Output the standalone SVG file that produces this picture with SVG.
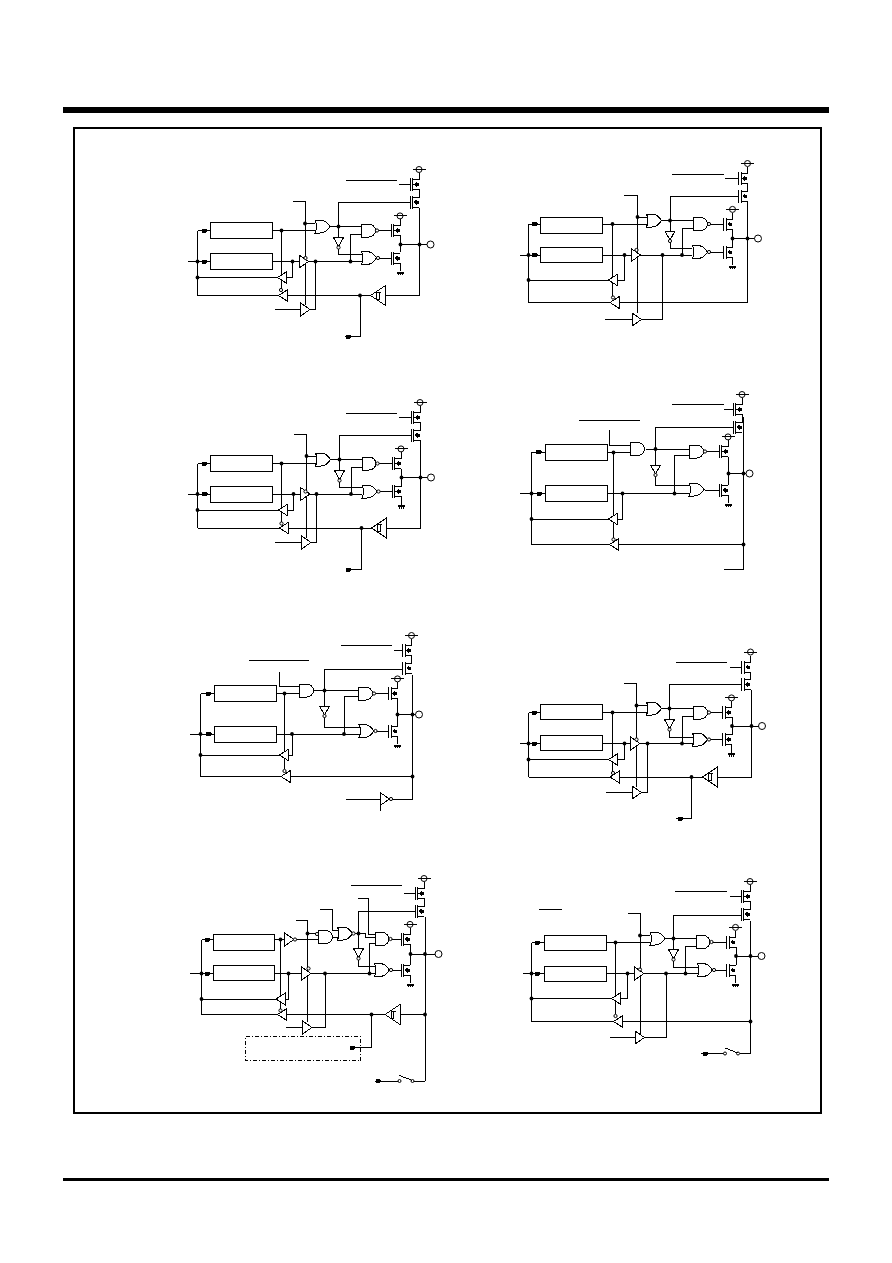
<svg xmlns="http://www.w3.org/2000/svg" width="892" height="1263" viewBox="0 0 892 1263">
<style>
path,rect{shape-rendering:crispEdges}
circle{shape-rendering:geometricPrecision}
.w{fill:none;stroke:#000;stroke-width:1}
.s{fill:#fff;stroke:#000;stroke-width:1}
.o{fill:none;stroke:#000;stroke-width:1}
.f{fill:#000;stroke:none}
</style>
<defs>
<circle id="j" r="1.9" class="f"/>
<path id="k" class="f" d="M-3.500-2H0.500L3 0 0.500 2H-3.500z"/>
<circle id="b" r="1.6" class="s"/>
<g id="and"><path class="s" d="M0-6.500H7A7 6.500 0 0 1 7 6.500H0z"/></g>
<g id="or"><path class="s" d="M0-6.500H5Q11-6.500 15 0Q11 6.500 5 6.500H0Q3 0 0-6.500z"/></g>
<g id="nand"><use href="#and"/><use href="#b" x="15.500"/></g>
<g id="nor"><use href="#or"/><use href="#b" x="16.500"/></g>
<path id="bl" class="s" d="M0 0L9.400-6V6z"/>
<path id="br" class="s" d="M0 0L-9.300-6.400V6.400z"/>
<g id="st"><path class="s" d="M0 0L15-10V10z"/><path class="o" d="M5 3.500H8.500V-3.500M6 3.500V-3.500H10.500"/></g>
<g id="dn"><path class="s" d="M-5 0H5L0 9z"/><use href="#b" y="10"/></g>
<g id="sup"><circle class="s" r="3"/><path class="o" d="M-6.500 0H6.500"/></g>
<g id="tt"><path class="o" d="M0-6.500V6.500M2.500-6.500V6.500M2.500-5H9.300V-11.500M2.500 5H9.300"/><path class="f" d="M3.500 0L6.500-2.500V2.500z M6-1.500H8.500V1.500H6z"/><use href="#sup" x="9" y="-14.600"/></g>
<g id="tb"><path class="o" d="M0-6.500V6.500M2.500-6.500V6.500M2.500-5H9.300M2.500 5H9.300V13"/><path class="f" d="M3.500 0L6.500-2.500V2.500z M6-1.500H8.500V1.500H6z"/><path class="f" d="M5.500 13.500H12.500V15.500H11.500V17H10.500V15.500H9.500V17H8.500V15.500H7.500V17H6.500V15.500H5.500z"/></g>
<g id="up"><path class="o" d="M0-6.500V6.500M2.500-6.500V6.500M2.500-5H9.300V-11.500M2.500 5H9.300V12.500H2.500M0 11V24M2.500 11V24M2.500 22.500H9.300"/><path class="f" d="M3.500 0L6.500-2.500V2.500z M6-1.500H8.500V1.500H6zM3.500 17.500L6.500 15V20z M6 16H8.500V19H6z"/><use href="#sup" x="9" y="-15"/></g>
<g id="sw"><circle class="s" r="1.500"/><circle class="s" cx="13" r="1.500"/><path class="o" d="M0-5.500L13-0.500"/></g>
</defs>

<g id="page">
<rect class="f" x="63" y="107" width="766" height="6"/>
<rect class="f" x="63" y="1178" width="766" height="3"/>
<rect x="74" y="128" width="747" height="985" fill="none" stroke="#000" stroke-width="2"/>
</g>

<g id="connectors">
<path id="c1-wires" class="w" d="M187.500 261.500H210.500M197.500 230.500V295.500M197.500 230.500H210.500M272.500 230.500H315M281.500 230.500V290M197.500 277.500H278M287 277.500H292.500V261.500M272.500 261.500H361.500M292.500 201.500H305V305M305 223.500H315M315.500 261.500V309.500H310M274.500 309.500H301M197.500 295.500H278.500M288 295.500H371M385.500 295.500H419.500V207.500M360 295.500V336.500H345M330 226.500H361.500M338.500 226.500V202H410M338.500 226.500V237.500M338.500 247V254H361.500M350.500 261.500V234.500H361.500M377 230.500H391M377 258H391M400.500 235V252M400.500 244.500H427M346 180.500H396.500M398.500 184.500H410"/>
<path id="c2-wires" class="w" d="M519.500 255H540.500M528.500 224V302.500M528.500 224H540.500M602.500 224H646.500M612.500 224V297M528.500 280H609M618 280H624.500V255M602.500 255H691.500M624 195H637.500V312.500M637.500 217H646.500M662.500 255V319.500H642M605 319.500H632.500M528.500 302.500H610M619.500 302.500H747.500V201.500M661 220.500H693.500M670 220.500V196H738.500M670 220.500V231M670 241V248.500H691.500M682 255V228.500H693.500M708 224H723.500M708 252H723.500M732.500 229V247M732.500 238.500H755M672 174.500H723.500M725 178.500H738.500"/>
<path id="c3-wires" class="w" d="M187.500 494H210.500M197.500 463.500V528M197.500 463.500H210.500M272.500 463.500H315.500M281.500 463.500V523M197.500 510H278.500M288 510H293.500V494M272.500 494H362M293.500 434H306.500V538M306.500 456H315.500M316.500 494V542.500H311M275 542.500H302M197.500 528H279.500M288.500 528H371.500M386.500 528H420.500V440M361.500 528V569.500H345.500M330.500 459.500H362M339.500 459.500V435H411M339.500 459.500V470.500M339.500 480V487.500H362M351 494V467.500H362M378 463.500H392M378 491.500H392M401.500 468.500V486.500M401.500 477.500H428M346 413.500H396.500M398.500 417.500H411"/>
<path id="c4-wires" class="w" d="M519.500 493.500H545.500M531.500 452V544.500M531.500 452H545.500M607.500 452.500H630.500M613.500 452.500V538M531.500 519H608.500M617.500 519H622.500V493.500M607.500 493.500H689M609.500 430V445.500H630.500M579 420H639.500M531.500 544.500H609.500M618.500 544.500H743.500M743.500 417V569.500H724M645.500 449H689.500M655.500 449V427.500H733M655.500 449V465M655.500 475.500V485.500H689M674.500 493.500V455H689.500M705 451.500H719M705 490H719M728.500 457V485M728.500 473.500H746M672 404.500H723.500M724 409.500H733"/>
<path id="c5-wires" class="w" d="M189.500 734H214.500M200.500 693.500V776.500M200.500 693.500H214.500M276.500 693.500H299.500M284.500 693.500V769M200.500 755H279.500M288.500 755H292.500V734M276.500 734H359M279.500 671.500V686H299.500M249 660H309M200.500 776.500H281M290 776.500H412.500M412.500 675V799H392.500M314 690.500H358.500M324.500 690.500V669.500H402.500M324.500 690.500V706M324.500 716V727.500H359M344 734V696.500H358.500M374 693.500H388.500M374 731H388.500M397.500 698V726M397.500 714.500H416M345.500 799H380.500M380.500 803.500V811M341 645.500H392M394 650.500H402.500"/>
<path id="c6-wires" class="w" d="M519.500 743.500H540.500M528.500 712.500V777M528.500 712.500H540.500M602.500 712.500H646.500M612.500 712.500V772M528.500 759.500H609M618 759.500H624.500V743.500M602.500 743.500H692.500M624 683.500H636.500V787M636.500 705.500H646.500M647.500 743.500V792.500H642M606 792.500H632.500M528.500 777H610M618.500 777H702.500M717.500 777H751.500V689.500M691.500 777V818.500H675.500M661 708.500H693.500M669.500 708.500V684.500H741.500M669.500 708.500V719.500M669.500 729V737.500H692.500M682 743.500V716.500H693.500M708 712.500H722.500M708 739.500H722.500M732 717V735M732 726H759M675.500 662.500H726.500M729.500 667H741.500"/>
<path id="c7-wires" class="w" d="M190 973.500H213.500M201.500 939.500V1014.500M201.500 939.500H213.500M274.500 939.500H285.500M294.500 939.500H318.500M280.500 939.500V1010M201.500 999H276M284.500 999H288.500V973.500M274.500 973.500H376.500M296 920.500H307.500V1021.500M307.500 933.500H318.500M325 973.500V1027.500H312M286 1027.500H302.500M201.500 1014.500H277.500M286.500 1014.500H385M400 1014.500H425M425 917V1081M371.500 1014.500V1047.500H350M320 909H332.500V930H337.500M332.500 937H337.500M353 933.500H365V937H375M358.500 933.500V911.500H416M358.500 933.500V948.500M358.500 958V966H374.500M357.500 898.500H368.500V934H375M369.500 973.500V943H375M391 939H401M391 970H401M410.500 944V965M410.500 954H435M351 885H401.500M403.500 893.500H415M412.500 1081H425M374.500 1081H399"/>
<path id="c8-wires" class="w" d="M522.500 973.500H544.500M531.500 942.500V1021.500M531.500 942.500H544.500M606.500 942.500H650M615.500 942.500V1014M531.500 998.500H612M621 998.500H627.500V973.500M606.500 973.500H697.500M627.500 913.500H640V1033.500M640 935.500H650M666 973.500V1037.500H644.500M609.500 1037.500H636M531.500 1021.500H613.500M622.500 1021.500H750.500M750.500 921V1053.500H740M665 938.500H696M673.500 938.500V915.500H741M673.500 938.500V949.500M673.500 959V967.500H697.500M685.500 973.500V946.500H696M712 942H726.500M713 970H726.500M736 947V965M736 956H758.500M675 891H727M729.500 896.500H741M539 909.500H562M725 1053.500H700.500"/>
<g id="junctions">
<use href="#j" x="197.500" y="261.500"/><use href="#j" x="197.500" y="277.500"/><use href="#j" x="281.500" y="230.500"/><use href="#j" x="292.500" y="261.500"/><use href="#j" x="305" y="223.500"/><use href="#j" x="315.500" y="261.500"/><use href="#j" x="350.500" y="261.500"/><use href="#j" x="338.500" y="226.500"/><use href="#j" x="360" y="295.500"/><use href="#j" x="400.500" y="244.500"/><use href="#j" x="419.500" y="244.500"/>
<use href="#j" x="528.500" y="255"/><use href="#j" x="528.500" y="280"/><use href="#j" x="612.500" y="224"/><use href="#j" x="624.500" y="255"/><use href="#j" x="637.500" y="217"/><use href="#j" x="662.500" y="255"/><use href="#j" x="682" y="255"/><use href="#j" x="670" y="220.500"/><use href="#j" x="732.500" y="238.500"/><use href="#j" x="747.500" y="238.500"/>
<use href="#j" x="197.500" y="494"/><use href="#j" x="197.500" y="510"/><use href="#j" x="281.500" y="463.500"/><use href="#j" x="293.500" y="494"/><use href="#j" x="306.500" y="456"/><use href="#j" x="316.500" y="494"/><use href="#j" x="351" y="494"/><use href="#j" x="339.500" y="459.500"/><use href="#j" x="361.500" y="528"/><use href="#j" x="401.500" y="477.500"/><use href="#j" x="420.500" y="477.500"/>
<use href="#j" x="531.500" y="493.500"/><use href="#j" x="531.500" y="519"/><use href="#j" x="613.500" y="452.500"/><use href="#j" x="622.500" y="493.500"/><use href="#j" x="674.500" y="493.500"/><use href="#j" x="655.500" y="449"/><use href="#j" x="728.500" y="473.500"/><use href="#j" x="743.500" y="473.500"/><use href="#j" x="743.500" y="544.500"/>
<use href="#j" x="200.500" y="734"/><use href="#j" x="200.500" y="755"/><use href="#j" x="284.500" y="693.500"/><use href="#j" x="292" y="734"/><use href="#j" x="344" y="734"/><use href="#j" x="324.500" y="690.500"/><use href="#j" x="397.500" y="714.500"/><use href="#j" x="412.500" y="714.500"/><use href="#j" x="412.500" y="776.500"/>
<use href="#j" x="528.500" y="743.500"/><use href="#j" x="528.500" y="759.500"/><use href="#j" x="612.500" y="712.500"/><use href="#j" x="624.500" y="743.500"/><use href="#j" x="636.500" y="705.500"/><use href="#j" x="647.500" y="743.500"/><use href="#j" x="682" y="743.500"/><use href="#j" x="669.500" y="708.500"/><use href="#j" x="691.500" y="777"/><use href="#j" x="732" y="726"/><use href="#j" x="751.500" y="726"/>
<use href="#j" x="201.500" y="973.500"/><use href="#j" x="201.500" y="999"/><use href="#j" x="280.500" y="939.500"/><use href="#j" x="288.500" y="973.500"/><use href="#j" x="307.500" y="933.500"/><use href="#j" x="325" y="973.500"/><use href="#j" x="369.500" y="973.500"/><use href="#j" x="358.500" y="933.500"/><use href="#j" x="371.500" y="1014.500"/><use href="#j" x="425" y="1014.500"/><use href="#j" x="410.500" y="954"/><use href="#j" x="425" y="954"/>
<use href="#j" x="531.500" y="973.500"/><use href="#j" x="531.500" y="998.500"/><use href="#j" x="615.500" y="942.500"/><use href="#j" x="627.500" y="973.500"/><use href="#j" x="640" y="935.500"/><use href="#j" x="666" y="973.500"/><use href="#j" x="685.500" y="973.500"/><use href="#j" x="673.500" y="938.500"/><use href="#j" x="736" y="956"/><use href="#j" x="750.500" y="956"/><use href="#j" x="750.500" y="1021.500"/>
</g>
<g id="wire-arrows">
<use href="#k" x="205.500" y="230.500"/><use href="#k" x="205.500" y="261.500"/><use href="#k" x="349.500" y="336.500"/>
<use href="#k" x="535.500" y="224"/><use href="#k" x="535.500" y="255"/>
<use href="#k" x="205.500" y="463.500"/><use href="#k" x="205.500" y="494"/><use href="#k" x="349.500" y="569.500"/>
<use href="#k" x="539.500" y="452"/><use href="#k" x="540" y="493.500"/>
<use href="#k" x="209.500" y="693.500"/><use href="#k" x="209.500" y="734"/>
<use href="#k" x="535.500" y="712.500"/><use href="#k" x="535.500" y="743.500"/><use href="#k" x="681" y="818.500"/>
<use href="#k" x="208.500" y="939.500"/><use href="#k" x="208.500" y="973.500"/><use href="#k" x="353" y="1047.500"/><use href="#k" x="379" y="1081"/>
<use href="#k" x="538.500" y="942.500"/><use href="#k" x="538.500" y="973.500"/><use href="#k" x="706" y="1053.500"/>
</g>
</g>

<g id="circuit-1">
<rect class="s" x="210.500" y="222.500" width="62" height="16"/><rect class="s" x="210.500" y="253.500" width="62" height="16"/>
<use href="#or" x="315" y="226.500"/><use href="#nand" x="361.500" y="230.500"/><use href="#nor" x="361.500" y="258"/><use href="#dn" x="338.500" y="237.500"/>
<use href="#bl" x="277.500" y="277.500"/><use href="#bl" x="278.500" y="295.500"/><use href="#br" x="308.500" y="261.500"/><use href="#b" x="305.500" y="258"/><use href="#br" x="310" y="309.500"/><use href="#b" x="281" y="290"/><use href="#st" x="370.500" y="295.500"/>
<use href="#tt" x="391" y="230.500"/><use href="#tb" x="391" y="258"/><use href="#up" x="410" y="184.500"/>
</g>
<g id="circuit-2">
<rect class="s" x="540.500" y="217.500" width="62" height="16"/><rect class="s" x="540.500" y="247.500" width="62" height="15"/>
<use href="#or" x="646.500" y="220.500"/><use href="#nand" x="693.500" y="224"/><use href="#nor" x="692.500" y="252"/><use href="#dn" x="670" y="231"/>
<use href="#bl" x="608.500" y="280"/><use href="#bl" x="610" y="302.500"/><use href="#br" x="640.500" y="255"/><use href="#b" x="636.500" y="250"/><use href="#br" x="641.500" y="319.500"/><use href="#b" x="613" y="297.500"/>
<use href="#tt" x="723.500" y="224"/><use href="#tb" x="723.500" y="252"/><use href="#up" x="738.500" y="178.500"/>
</g>
<g id="circuit-3">
<rect class="s" x="210.500" y="455.500" width="62" height="16"/><rect class="s" x="210.500" y="486" width="62" height="16"/>
<use href="#or" x="315.500" y="459.500"/><use href="#nand" x="362" y="463.500"/><use href="#nor" x="362" y="491.500"/><use href="#dn" x="339.500" y="470.500"/>
<use href="#bl" x="278.500" y="510"/><use href="#bl" x="279.500" y="528"/><use href="#br" x="310" y="494"/><use href="#b" x="305.500" y="491.500"/><use href="#br" x="311" y="542.500"/><use href="#b" x="281.500" y="523.500"/><use href="#st" x="371.500" y="528"/>
<use href="#tt" x="392" y="463.500"/><use href="#tb" x="392" y="491.500"/><use href="#up" x="411" y="417.500"/>
</g>
<g id="circuit-4">
<rect class="s" x="545.500" y="444.500" width="62" height="16"/><rect class="s" x="545.500" y="485.500" width="62" height="16"/>
<use href="#and" x="630.500" y="449"/><use href="#nand" x="689.500" y="451.500"/><use href="#or" x="689" y="489.500"/><use href="#dn" x="655.500" y="465"/>
<use href="#bl" x="608.500" y="519"/><use href="#bl" x="609.500" y="544.500"/><use href="#b" x="613.500" y="539.500"/>
<use href="#tt" x="719" y="451.500"/><use href="#tb" x="719" y="490"/><use href="#up" x="733" y="409.500"/>
</g>
<g id="circuit-5">
<rect class="s" x="214.500" y="685.500" width="62" height="16"/><rect class="s" x="214.500" y="726.500" width="62" height="16"/>
<use href="#and" x="299.500" y="690.500"/><use href="#nand" x="358.500" y="693.500"/><use href="#nor" x="359" y="731"/><use href="#dn" x="324.500" y="706"/>
<use href="#bl" x="279.500" y="755"/><use href="#bl" x="281" y="776.500"/><use href="#b" x="284.500" y="771"/>
<use href="#br" x="389.500" y="799"/><use href="#b" x="391" y="799"/>
<use href="#tt" x="388.500" y="693.500"/><use href="#tb" x="388.500" y="731"/><use href="#up" x="402.500" y="650.500"/>
</g>
<g id="circuit-6">
<rect class="s" x="540.500" y="704.500" width="62" height="15"/><rect class="s" x="540.500" y="735.500" width="62" height="15"/>
<use href="#or" x="646.500" y="708.500"/><use href="#nand" x="693.500" y="712.500"/><use href="#nor" x="692.500" y="739.500"/><use href="#dn" x="669.500" y="719.500"/>
<use href="#bl" x="608.500" y="759.500"/><use href="#bl" x="610" y="777"/><use href="#br" x="640" y="743.500"/><use href="#b" x="636.500" y="739.500"/><use href="#br" x="641.500" y="792.500"/><use href="#b" x="613" y="773"/><use href="#st" x="702.500" y="777"/>
<use href="#tt" x="722.500" y="712.500"/><use href="#tb" x="722.500" y="739.500"/><use href="#up" x="741.500" y="667"/>
</g>
<g id="circuit-7">
<rect class="s" x="213.500" y="934.500" width="61" height="16"/><rect class="s" x="213.500" y="965.500" width="61" height="15"/>
<use href="#br" x="294" y="939.500"/><use href="#b" x="295" y="939.500"/>
<use href="#and" x="318.500" y="937"/><use href="#b" x="317" y="934"/><use href="#or" x="337.500" y="933.500"/><use href="#b" x="353.500" y="933.500"/>
<use href="#nand" x="375" y="939"/><use href="#nor" x="374.500" y="970"/><use href="#dn" x="358.500" y="948.500"/>
<use href="#bl" x="276" y="999"/><use href="#bl" x="277.500" y="1014.500"/><use href="#br" x="311" y="973.500"/><use href="#b" x="308.500" y="968.500"/><use href="#br" x="312" y="1027.500"/><use href="#b" x="280.500" y="1010.500"/><use href="#st" x="385" y="1014.500"/>
<use href="#tt" x="401" y="939"/><use href="#tb" x="401" y="970"/><use href="#up" x="415" y="893.500"/>
<use href="#sw" x="399.500" y="1081"/>
<rect id="optional-block" x="245.500" y="1036.500" width="115" height="24" fill="none" stroke="#000" stroke-width="1" stroke-dasharray="4 2 1 2"/>
</g>
<g id="circuit-8">
<rect class="s" x="544.500" y="935.500" width="62" height="15"/><rect class="s" x="544.500" y="966.500" width="62" height="15"/>
<use href="#or" x="650" y="938.500"/><use href="#nand" x="696" y="942"/><use href="#nor" x="697.500" y="970"/><use href="#dn" x="673.500" y="949.500"/>
<use href="#bl" x="611.500" y="998.500"/><use href="#bl" x="613.500" y="1021.500"/><use href="#br" x="644" y="973.500"/><use href="#b" x="640" y="969.500"/><use href="#br" x="644.500" y="1037.500"/><use href="#b" x="615.500" y="1016"/>
<use href="#tt" x="726.500" y="942"/><use href="#tb" x="726.500" y="970"/><use href="#up" x="741" y="896.500"/>
<use href="#sw" x="725" y="1053.500"/>
</g>
<g id="outputs">
<circle class="s" cx="430.500" cy="244.500" r="3.500"/><circle class="s" cx="758" cy="238.500" r="3.500"/><circle class="s" cx="431" cy="477.500" r="3.500"/><circle class="s" cx="749.500" cy="473.500" r="3.500"/><circle class="s" cx="419" cy="714.500" r="3.500"/><circle class="s" cx="762" cy="726" r="3.500"/><circle class="s" cx="438.500" cy="954" r="3.500"/><circle class="s" cx="761.500" cy="956" r="3.500"/>
</g>
</svg>
